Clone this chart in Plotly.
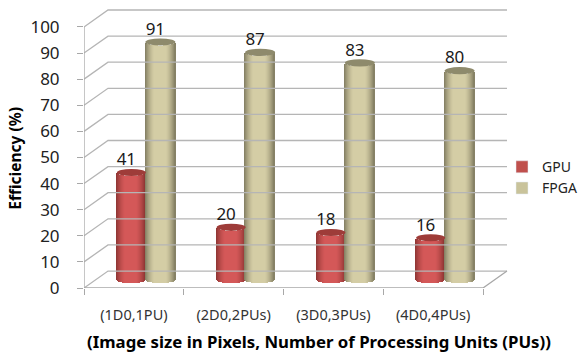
import plotly.graph_objects as go

# Chart data
categories = ["(1D0,1PU)", "(2D0,2PUs)", "(3D0,3PUs)", "(4D0,4PUs)"]
gpu_values = [41, 20, 18, 16]
fpga_values = [91, 87, 83, 80]
y_ticks = [0, 10, 20, 30, 40, 50, 60, 70, 80, 90, 100]

WIDTH, HEIGHT = 579, 354
LEFT, RIGHT, TOP, BOTTOM = 84, 554, 8, 65.5
PX_PER_CAT = 99.75
PX_PER_PCT = 2.615

# Oblique projection: depth offsets of the back wall, in axis units
DEPTH_X = 24 / PX_PER_CAT
DEPTH_Y = 17 / PX_PER_PCT

x_low = -0.5
y_high = (HEIGHT - BOTTOM - TOP) / PX_PER_PCT
n_cat = len(categories)

fig = go.Figure()

GRID = "#B5B5B5"


def polyline(xs, ys, color=GRID, width=1.3):
    fig.add_trace(go.Scatter(
        x=xs, y=ys, mode="lines", line=dict(color=color, width=width),
        hoverinfo="skip", showlegend=False))


# Back wall gridlines, continuing down the side wall to the front axis
for v in y_ticks:
    polyline([x_low, x_low + DEPTH_X, x_low + n_cat + DEPTH_X],
             [v, v + DEPTH_Y, v + DEPTH_Y])

# Front axis lines and the right edge of the floor
polyline([x_low, x_low], [0, 100], "#A8A8A8")
polyline([x_low, x_low + n_cat, x_low + n_cat + DEPTH_X],
         [0, 0, DEPTH_Y], "#A8A8A8")


def mix(a, b, t):
    return "rgb(%d,%d,%d)" % tuple(round(p + (q - p) * t) for p, q in zip(a, b))


def cylinders(values, shift_px, width_px, edge, mid, top_color):
    """Draw shaded cylinders as 1px bar strips, with elliptical caps."""
    half = width_px / 2
    cap = 3.6 / PX_PER_PCT
    xs, ys, bases, colors = [], [], [], []
    floor = DEPTH_Y / 2
    for i, value in enumerate(values):
        centre = i + DEPTH_X / 2 + shift_px / PX_PER_CAT
        for k in range(int(width_px)):
            u = (k + 0.5 - width_px / 2) / half
            bulge = cap * (1 - u * u) ** 0.5
            xs.append(centre + u * half / PX_PER_CAT)
            bases.append(floor - bulge)
            ys.append(value)
            colors.append(mix(edge, mid, min(1, (1 - abs(u) ** 2.2) * 1.15)))
        fig.add_shape(
            type="circle", xref="x", yref="y", layer="above",
            x0=centre - half / PX_PER_CAT, x1=centre + half / PX_PER_CAT,
            y0=value + floor - cap, y1=value + floor + cap,
            fillcolor=top_color, line=dict(width=0))
    fig.add_trace(go.Bar(
        x=xs, y=ys, base=bases, width=1.35 / PX_PER_CAT,
        marker=dict(color=colors, line=dict(width=0)),
        hoverinfo="skip", showlegend=False))
    label_x = [i + DEPTH_X / 2 + (shift_px - 5) / PX_PER_CAT
               for i in range(len(values))]
    fig.add_trace(go.Scatter(
        x=label_x, y=[v + floor + 11.5 / PX_PER_PCT for v in values],
        mode="text", text=[str(v) for v in values], textposition="middle center",
        textfont=dict(family="Noto Sans", size=17, color="#1a1a1a"),
        hoverinfo="skip", showlegend=False, cliponaxis=False))


cylinders(gpu_values, -14.5, 29, (140, 52, 50), (212, 88, 88), "rgb(158,60,57)")
cylinders(fpga_values, 14.5, 30, (128, 123, 96), (212, 205, 165), "rgb(142,138,108)")

# Legend entries
for name, color in [("GPU", "#C0504D"), ("FPGA", "#C9C39B")]:
    fig.add_trace(go.Bar(x=[None], y=[None], name=name, marker_color=color))

fig.add_annotation(
    text="<b>Efficiency (%)</b>", xref="paper", yref="paper", showarrow=False,
    x=(15 - LEFT) / (RIGHT - LEFT), y=(HEIGHT - BOTTOM - 159) / (HEIGHT - BOTTOM - TOP),
    xanchor="center", yanchor="middle",
    textangle=-90, font=dict(family="Noto Sans", size=15.5, color="black"))
fig.add_annotation(
    text="<b>(Image size in Pixels, Number of Processing Units (PUs))</b>",
    xref="paper", yref="paper", showarrow=False,
    x=(319 - LEFT) / (RIGHT - LEFT), y=(HEIGHT - BOTTOM - 342) / (HEIGHT - BOTTOM - TOP),
    xanchor="center", yanchor="middle",
    font=dict(family="Noto Sans", size=16.8, color="black"))

fig.update_layout(
    width=WIDTH, height=HEIGHT, autosize=False,
    margin=dict(l=LEFT, r=WIDTH - RIGHT, t=TOP, b=BOTTOM, autoexpand=False),
    paper_bgcolor="white", plot_bgcolor="white",
    barmode="overlay", bargap=0,
    xaxis=dict(
        range=[x_low, x_low + (RIGHT - LEFT) / PX_PER_CAT],
        tickmode="array", tickvals=list(range(n_cat)), ticktext=categories,
        ticks="", ticklabelstandoff=16, showgrid=False, zeroline=False, automargin=False,
        showline=False, tickfont=dict(family="Noto Sans", size=14.5, color="#333333"),
        minor=dict(tickmode="array", tickvals=[x_low + i for i in range(n_cat + 1)],
                   ticks="outside", ticklen=6, tickcolor="#A8A8A8", showgrid=False),
    ),
    yaxis=dict(
        range=[0, y_high], tickmode="array", tickvals=y_ticks,
        ticks="outside", ticklen=6, tickcolor="#A8A8A8", ticklabelstandoff=14,
        showgrid=False, zeroline=False, showline=False, automargin=False,
        tickfont=dict(family="Noto Sans", size=17, color="#222222"),
    ),
    legend=dict(
        x=(502 - LEFT) / (RIGHT - LEFT), xanchor="left",
        y=(HEIGHT - BOTTOM - 178) / (HEIGHT - BOTTOM - TOP), yanchor="middle",
        font=dict(family="Noto Sans", size=14, color="#222222"),
        bgcolor="rgba(0,0,0,0)", itemwidth=30, tracegroupgap=5,
    ),
)

fig.write_html("out.html")
